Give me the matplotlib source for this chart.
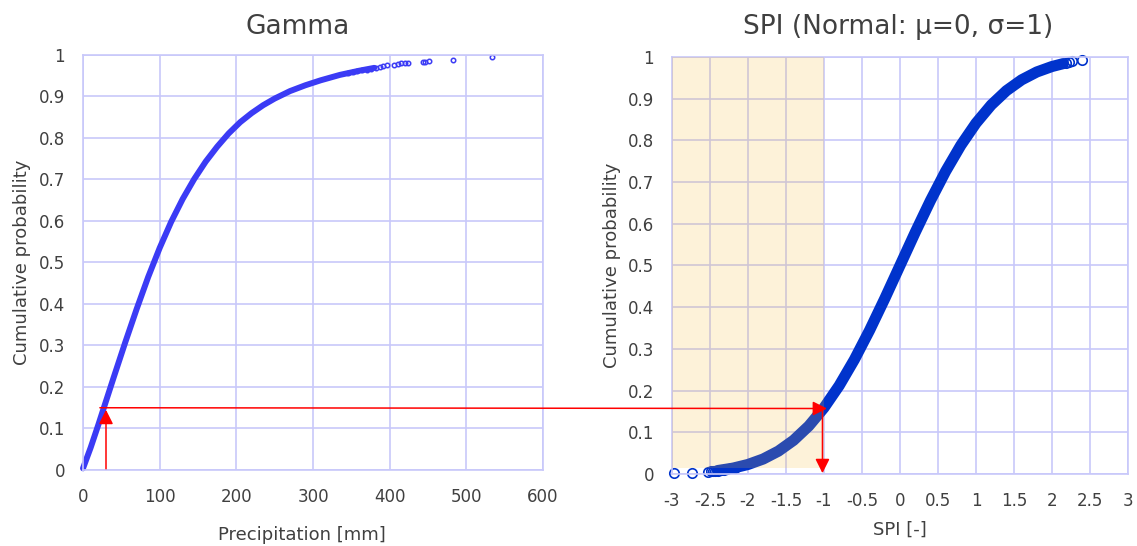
import matplotlib
matplotlib.use("Agg")
import matplotlib.pyplot as plt
from matplotlib.patches import ConnectionPatch
from matplotlib.ticker import FuncFormatter

plt.rcParams['font.family'] = ['DejaVu Sans']
plt.rcParams['axes.unicode_minus'] = False

# --- data ---
# Gamma CDF of precipitation (dense part of the curve)
precip = [0, 10, 20, 30, 40, 55, 70, 85, 100, 115, 130, 145, 160, 175, 190,
          205, 220, 235, 250, 270, 290, 310, 335, 360, 380]
gamma_p = [0.004, 0.054, 0.109, 0.166, 0.223, 0.307, 0.388, 0.465, 0.535,
           0.598, 0.653, 0.701, 0.743, 0.779, 0.811, 0.838, 0.860, 0.879,
           0.895, 0.913, 0.927, 0.939, 0.952, 0.962, 0.969]
# sparse upper tail (single markers)
tail_precip = [345, 352, 358, 364, 370, 376, 382, 387, 391, 396, 406, 411,
               415, 420, 424, 443, 446, 451, 482, 533]
tail_p = [0.956, 0.959, 0.961, 0.963, 0.965, 0.967, 0.969, 0.971, 0.973,
          0.975, 0.977, 0.979, 0.980, 0.981, 0.981, 0.984, 0.984, 0.985,
          0.989, 0.994]

# SPI (standard normal) curve
spi = [-2.4, -2.2, -2.0, -1.8, -1.6, -1.4, -1.2, -1.0, -0.8, -0.6, -0.4, -0.2,
       0.0, 0.2, 0.4, 0.6, 0.8, 1.0, 1.2, 1.4, 1.6, 1.8, 2.0, 2.15]
spi_p = [0.0082, 0.0139, 0.0228, 0.0359, 0.0548, 0.0808, 0.1151, 0.1587,
         0.2119, 0.2743, 0.3446, 0.4207, 0.5, 0.5793, 0.6554, 0.7257, 0.7881,
         0.8413, 0.8849, 0.9192, 0.9452, 0.9641, 0.9772, 0.9842]
spi_tail = [-2.97, -2.73, -2.52, -2.49, -2.46, -2.43, -2.40, -2.36, -2.32,
            -2.27, -2.22, -2.17, 2.18, 2.22, 2.26, 2.39]
spi_tail_p = [0.0015, 0.0032, 0.0059, 0.0064, 0.0069, 0.0075, 0.0082, 0.0091,
              0.0102, 0.0116, 0.0132, 0.0150, 0.985, 0.987, 0.990, 0.993]

# arrow example: ~27 mm -> p = 0.15 -> SPI = -1
arrow_precip = 30
arrow_p = 0.15
arrow_spi = -1.02

prob_ticks = [0, 0.1, 0.2, 0.3, 0.4, 0.5, 0.6, 0.7, 0.8, 0.9, 1]
precip_ticks = [0, 100, 200, 300, 400, 500, 600]
spi_ticks = [-3, -2.5, -2, -1.5, -1, -0.5, 0, 0.5, 1, 1.5, 2, 2.5, 3]

grid_col = '#C8C8FA'
txt_col = '#404040'
fmt = FuncFormatter(lambda v, pos: '%g' % v)

fig = plt.figure(figsize=(11.37, 5.46), dpi=100)
ax1 = fig.add_axes([0.0730, 0.1392, 0.4046, 0.7601])
ax2 = fig.add_axes([0.5910, 0.1319, 0.4011, 0.7637])

for ax in (ax1, ax2):
    ax.set_ylim(0, 1)
    ax.set_yticks(prob_ticks)
    ax.yaxis.set_major_formatter(fmt)
    ax.xaxis.set_major_formatter(fmt)
    ax.grid(True, color=grid_col, lw=1.2)
    ax.set_axisbelow(True)
    for s in ax.spines.values():
        s.set_color(grid_col)
        s.set_linewidth(1.2)
    ax.tick_params(length=0, labelsize=12, labelcolor=txt_col)
    ax.tick_params(axis='y', pad=13)
    ax.tick_params(axis='x', pad=13)

# left: gamma
ax1.set_xlim(0, 600)
ax1.set_xticks(precip_ticks)
ax1.plot(precip, gamma_p, color='#3B3BF5', lw=4.3, solid_capstyle='round',
         solid_joinstyle='round', zorder=2, clip_on=False)
ax1.plot(tail_precip, tail_p, 'o', ms=3.2, mfc='none', mec='#3B3BF5', mew=1.1, zorder=2)

# right: SPI
ax2.set_xlim(-3, 3)
ax2.set_xticks(spi_ticks)
ax2.plot(spi, spi_p, color='#0033CC', lw=8, solid_capstyle='round',
         solid_joinstyle='round', zorder=2)
ax2.plot(spi_tail, spi_tail_p, 'o', ms=6.8, mfc='none', mec='#0033CC', mew=1.2,
         zorder=2, clip_on=False)
ax2.axvspan(-3, -1, ymin=0.014, ymax=1.0, color='#F4BB2D', alpha=0.18, lw=0, zorder=3)

# arrows
head = '-|>,head_length=0.86,head_width=0.43'
ax1.annotate('', xy=(arrow_precip, arrow_p - 0.005), xytext=(arrow_precip, 0.003),
             arrowprops=dict(arrowstyle=head, color='red', lw=1.1, shrinkA=0,
                             shrinkB=0, mutation_scale=10), annotation_clip=False, zorder=5)
ax2.annotate('', xy=(arrow_spi, 0.002), xytext=(arrow_spi, arrow_p + 0.007),
             arrowprops=dict(arrowstyle=head, color='red', lw=1.1, shrinkA=0,
                             shrinkB=0, mutation_scale=10), annotation_clip=False, zorder=5)
con = ConnectionPatch(xyA=(22, arrow_p), coordsA=ax1.transData,
                      xyB=(-0.96, arrow_p + 0.007), coordsB=ax2.transData,
                      arrowstyle=head, color='red', lw=1.1, mutation_scale=10,
                      shrinkA=0, shrinkB=0, zorder=6)
fig.add_artist(con)

# titles and labels
fig.text(0.262, 0.95, 'Gamma', ha='center', va='center', fontsize=19, color=txt_col)
fig.text(0.790, 0.95, 'SPI (Normal: \u03bc=0, \u03c3=1)', ha='center', va='center',
         fontsize=19, color=txt_col)
fig.text(0.2656, 0.020, 'Precipitation [mm]', ha='center', va='center', fontsize=13, color=txt_col)
fig.text(0.7916, 0.029, 'SPI [-]', ha='center', va='center', fontsize=13, color=txt_col)
fig.text(0.019, 0.519, 'Cumulative probability', rotation=90, ha='center', va='center',
         fontsize=13, color=txt_col)
fig.text(0.538, 0.514, 'Cumulative probability', rotation=90, ha='center', va='center',
         fontsize=13, color=txt_col)

fig.savefig('out.png', dpi=100)
